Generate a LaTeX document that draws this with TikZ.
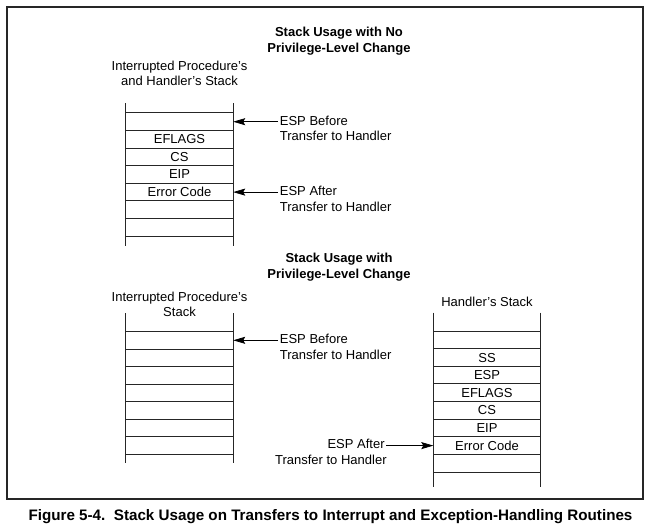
\documentclass[tikz,border=0pt]{standalone}
\usepackage{fontspec}
\setmainfont{Liberation Sans}
\usetikzlibrary{arrows.meta,positioning}

\begin{document}
\begin{tikzpicture}[
    x=1pt, y=-1pt,
    cell/.style={minimum width=107pt, minimum height=17.6pt, inner sep=0pt,
      anchor=north, font=\fontsize{13}{15}\selectfont},
    lbl/.style={inner sep=1.5pt, text height=9.5pt, text depth=2.8pt,
      font=\fontsize{13}{15}\selectfont},
    hdr/.style={align=center, inner sep=0pt, font=\fontsize{13}{15}\selectfont},
    ttl/.style={align=center, inner sep=0pt, font=\fontsize{13}{16}\selectfont\bfseries},
    esp/.style={line width=0.7pt, -{Stealth[length=12pt, width=7pt, inset=2pt]}},
    rule/.style={line width=0.7pt, black!85}
  ]
  \useasboundingbox (0,0) rectangle (661,531);
  \draw[line width=1.3pt, black!85] (7,7) rectangle (643,499);

  % no privilege-level change
  \node[ttl] (title1) at (339,41) {Stack Usage with No\\Privilege-Level Change};
  \node[hdr] (hdr1) at (179.5,73.5) {Interrupted Procedure's\\and Handler's Stack};
  \foreach \txt [count=\i] in {{}, EFLAGS, CS, EIP, Error Code, {}, {}}
    \node[cell] (a\i) at (179.5, 112.7+17.6*\i-17.6) {\txt};
  \foreach \i in {1,...,7}
    \draw[rule] (a\i.north west) -- (a\i.north east);
  \draw[rule] (a7.south west) -- (a7.south east);
  \draw[rule] ([yshift=9.7pt]a1.north west) -- ([yshift=-9.3pt]a7.south west);
  \draw[rule] ([yshift=9.7pt]a1.north east) -- ([yshift=-9.3pt]a7.south east);

  \node[lbl, anchor=west] (bef1) at ([xshift=45pt]a1.east) {ESP Before};
  \node[lbl, anchor=north west] (bef1b) at (bef1.south west) {Transfer to Handler};
  \node[lbl, anchor=west] (aft1) at ([xshift=45pt]a5.east) {ESP After};
  \node[lbl, anchor=north west] (aft1b) at (aft1.south west) {Transfer to Handler};
  \draw[esp] (bef1.west) -- (a1.east);
  \draw[esp] (aft1.west) -- (a5.east);

  % privilege-level change
  \node[ttl] (title2) at (339,267.5) {Stack Usage with\\Privilege-Level Change};
  \node[hdr] (hdr2) at (179.5,304) {Interrupted Procedure's\\Stack};
  \foreach \i in {1,...,7}
    \node[cell] (b\i) at (179.5, 331.3+17.57*\i-17.57) {};
  \foreach \i in {1,...,7}
    \draw[rule] (b\i.north west) -- (b\i.north east);
  \draw[rule] (b7.south west) -- (b7.south east);
  \draw[rule] ([yshift=18.3pt]b1.north west) -- ([yshift=-8.7pt]b7.south west);
  \draw[rule] ([yshift=18.3pt]b1.north east) -- ([yshift=-8.7pt]b7.south east);

  \node[hdr] (hdr3) at (487,302) {Handler's Stack};
  \foreach \txt [count=\i] in {{}, SS, ESP, EFLAGS, CS, EIP, Error Code, {}}
    \node[cell] (c\i) at (487, 331+17.6*\i-17.6) {\txt};
  \foreach \i in {1,...,8}
    \draw[rule] (c\i.north west) -- (c\i.north east);
  \draw[rule] (c8.south west) -- (c8.south east);
  \draw[rule] ([yshift=18.3pt]c1.north west) -- ([yshift=-15.2pt]c8.south west);
  \draw[rule] ([yshift=18.3pt]c1.north east) -- ([yshift=-15.2pt]c8.south east);

  \node[lbl, anchor=west] (bef2) at ([xshift=45pt]b1.east) {ESP Before};
  \node[lbl, anchor=north west] (bef2b) at (bef2.south west) {Transfer to Handler};
  \node[lbl, anchor=east] (aft2) at ([xshift=-47pt]c7.west) {ESP After};
  \node[lbl, anchor=north east] (aft2b) at ([xshift=2pt]aft2.south east) {Transfer to Handler};
  \draw[esp] (bef2.west) -- (b1.east);
  \draw[esp] (aft2.east) -- (c7.west);

  \node[font=\fontsize{15.2}{18}\selectfont\bfseries] (caption) at (330.5,517)
    {Figure 5-4.\ \ Stack Usage on Transfers to Interrupt and Exception-Handling Routines};
\end{tikzpicture}
\end{document}
